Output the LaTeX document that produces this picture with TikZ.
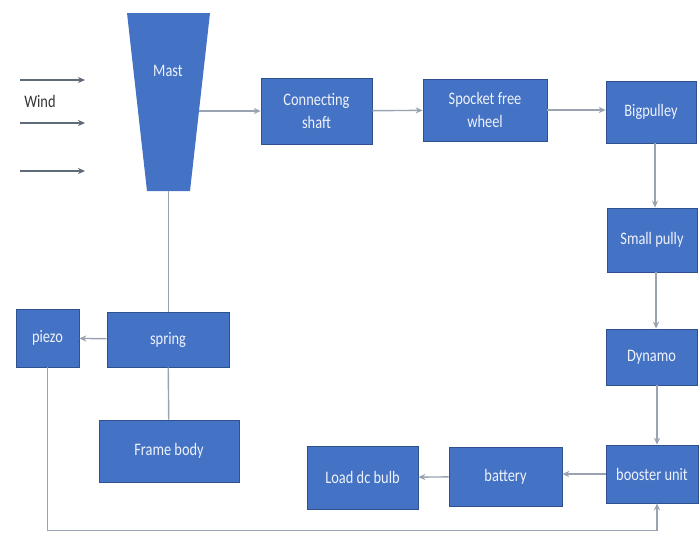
\documentclass[tikz,border=0pt]{standalone}
\usepackage{fontspec}
\setmainfont{Carlito}[FakeStretch=0.82]
\usetikzlibrary{arrows.meta, positioning, calc}

\definecolor{boxblue}{HTML}{4472C4}
\definecolor{boxedge}{HTML}{2F528F}
\definecolor{linegray}{HTML}{9AA3B2}
\definecolor{windgray}{HTML}{5F6B78}
\definecolor{labelwhite}{HTML}{EEF2FA}

\begin{document}
\begin{tikzpicture}[
  x=0.02cm, y=-0.02cm,
  box/.style={draw=boxedge, fill=boxblue, inner sep=0pt, align=center,
              text=labelwhite, font=\fontsize{10}{13}\selectfont},
  arr/.style={-{Stealth[length=4pt, width=3.5pt]}, draw=linegray, thick},
  link/.style={draw=linegray, thick},
  windarr/.style={-{Stealth[length=4pt, width=3.5pt]}, draw=windgray, semithick}
]
  \useasboundingbox (0,0) rectangle (699,534);

  % mast
  \fill[boxblue] (127,13) -- (210,13) -- (190,191) -- (147,191) -- cycle;
  \node[text=labelwhite, font=\fontsize{10}{13}\selectfont] (mast) at (168,71) {Mast};
  \coordinate (mastR) at (198.8,111);
  \coordinate (mastB) at (168.5,191);

  % wind
  \node[font=\fontsize{10}{13}\selectfont, text=black!80] (wind) at (40,101) {Wind};
  \foreach \y [count=\i] in {80,123,171} {
    \coordinate (ws\i) at (20,\y);
    \coordinate (we\i) at (85,\y);
    \draw[windarr] (ws\i) -- (we\i);
  }

  % top row
  \node[box, minimum width=2.22cm, minimum height=1.32cm] (shaft) at (316.5,111) {Connecting\\shaft};
  \node[box, minimum width=2.48cm, minimum height=1.24cm] (sprocket) at (485,110) {Spocket free\\wheel};
  \node[box, minimum width=1.8cm, minimum height=1.24cm] (bigp) at (651,112) {Bigpulley};

  % right column
  \node[box, minimum width=1.8cm, minimum height=1.28cm] (smallp) at (652,240) {Small pully};
  \node[box, minimum width=1.82cm, minimum height=1.12cm] (dynamo) at (651.5,357) {Dynamo};
  \node[box, minimum width=1.84cm, minimum height=1.16cm] (booster) at (652,474) {booster unit};

  % bottom row
  \node[box, minimum width=2.26cm, minimum height=1.18cm] (battery) at (505.5,476.5) {battery};
  \node[box, minimum width=2.22cm, minimum height=1.26cm] (load) at (362.5,477.5) {Load dc bulb};

  % left side
  \node[box, minimum width=1.26cm, minimum height=1.16cm] (piezo) at (47.5,338) {piezo};
  \node[box, minimum width=2.44cm, minimum height=1.1cm] (spring) at (168,339.5) {spring};
  \node[box, minimum width=2.8cm, minimum height=1.24cm] (frame) at (169,451) {Frame body};

  % connectors
  \draw[arr] (mastR) -- (mastR -| shaft.west);
  \draw[arr] (shaft) -- (sprocket);
  \draw[arr] (sprocket.east) -- (sprocket.east -| bigp.west);
  \draw[arr] (bigp.south -| 655,0) -- (smallp.north -| 655,0);
  \draw[arr] (smallp.south -| 656,0) -- (dynamo.north -| 656,0);
  \draw[arr] (dynamo.south -| 657,0) -- (booster.north -| 657,0);
  \draw[arr] (booster.west) -- (booster.west -| battery.east);
  \draw[arr] (battery) -- (load);
  \draw[link] (mastB) -- (mastB |- spring.north);
  \draw[link] (spring) -- (frame);
  \draw[arr] (spring) -- (piezo);
  \draw[arr] (piezo.south) -- ++(0,163) -| (booster.south -| 657,0);
\end{tikzpicture}
\end{document}
